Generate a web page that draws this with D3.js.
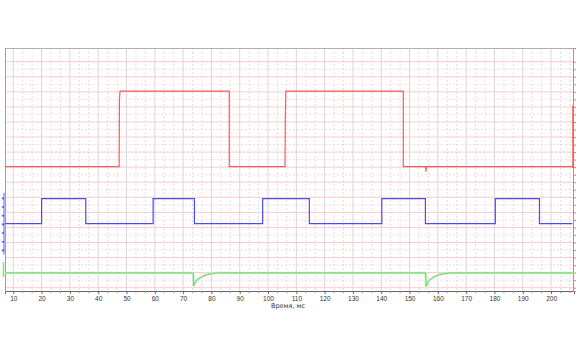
<!DOCTYPE html>
<html>
<head>
<meta charset="utf-8">
<script src="https://cdn.jsdelivr.net/npm/d3@7"></script>
<style>
  body { margin: 0; background: #fff; }
  svg { display: block; font-family: "DejaVu Sans", sans-serif; }
</style>
</head>
<body>
<div id="chart"></div>
<script>
// tick labels on the time axis (ms)
var xTicks = [10, 20, 30, 40, 50, 60, 70, 80, 90, 100, 110, 120, 130, 140, 150, 160, 170, 180, 190, 200];

// red trace
var redX = [7.1, 47.4, 47.5, 47.7, 86.3, 86.3, 106.0, 106.1, 106.3, 147.8, 147.8, 155.7, 155.8, 156.0, 208.0];
var redY = [8.03, 8.03, 12.4, 13.05, 13.05, 8.03, 8.03, 11.2, 13.05, 13.05, 8.03, 8.03, 7.7, 8.03, 8.03];

// blue trace
var blueX = [7.1, 20.0, 20.0, 35.6, 35.6, 59.4, 59.4, 74.0, 74.0, 98.1, 98.1, 114.6, 114.6, 140.2, 140.2, 155.6, 155.6, 180.3, 180.3, 195.9, 195.9, 207.5];
var blueY = [4.25, 4.25, 5.91, 5.91, 4.25, 4.25, 5.91, 5.91, 4.25, 4.25, 5.91, 5.91, 4.25, 4.25, 5.91, 5.91, 4.25, 4.25, 5.91, 5.91, 4.25, 4.25];

// green trace
var greenX = [7.1, 73.6, 73.7, 74.8, 76.6, 78.3, 80.1, 81.9, 155.7, 155.8, 157.0, 158.8, 160.5, 162.3, 164.1, 208.0];
var greenY = [0.98, 0.98, 0.11, 0.51, 0.73, 0.87, 0.93, 0.98, 0.98, 0.11, 0.51, 0.73, 0.87, 0.93, 0.98, 0.98];

var margin = {top: 48, right: 4, bottom: 59, left: 5},
    width = 578 - margin.left - margin.right,
    height = 350 - margin.top - margin.bottom;

var svg = d3.select("#chart")
  .append("svg")
    .attr("width", 578)
    .attr("height", 350)
  .append("g")
    .attr("transform", "translate(" + margin.left + "," + margin.top + ")");

var x = d3.scaleLinear()
  .domain([7.07, 208.1])
  .range([0, width]);

var y = d3.scaleLinear()
  .domain([-0.22, 15.91])
  .range([height, 0]);

// vertical grid: major every 10, minor every 10/3
var minorX = d3.range(0, 63).map(function(i) { return 10 / 3 * i; })
  .filter(function(v) { return v > 7.1 && v < 208 && Math.abs(v / 10 - Math.round(v / 10)) > 0.01; });

svg.append("g").selectAll("line")
  .data(minorX)
  .enter().append("line")
    .attr("x1", function(d) { return x(d); })
    .attr("x2", function(d) { return x(d); })
    .attr("y1", 0).attr("y2", height)
    .attr("stroke", "#dedeea")
    .attr("stroke-dasharray", "2,2");

svg.append("g").selectAll("line")
  .data(xTicks)
  .enter().append("line")
    .attr("x1", function(d) { return x(d); })
    .attr("x2", function(d) { return x(d); })
    .attr("y1", 0).attr("y2", height)
    .attr("stroke", "#d6d6e2");

// horizontal grid: solid at whole units, dotted at halves
var gridY = d3.range(0, 31).map(function(i) { return i / 2; });

svg.append("g").selectAll("line")
  .data(gridY)
  .enter().append("line")
    .attr("x1", 0).attr("x2", width)
    .attr("y1", function(d) { return y(d); })
    .attr("y2", function(d) { return y(d); })
    .attr("stroke", function(d) { return d % 1 === 0 ? "#ffcaca" : "#ffd6d6"; })
    .attr("stroke-dasharray", function(d) { return d % 1 === 0 ? null : "2,2"; });

// frame
svg.append("line")
  .attr("x1", 0).attr("x2", width).attr("y1", 0.5).attr("y2", 0.5)
  .attr("stroke", "#b0b0b0");
svg.append("line")
  .attr("x1", 0.5).attr("x2", 0.5).attr("y1", 0).attr("y2", height)
  .attr("stroke", "#a0a0a0");

// bottom axis
var xAxis = svg.append("g")
  .attr("transform", "translate(0," + height + ")")
  .call(d3.axisBottom(x).tickValues(xTicks).tickSize(3).tickFormat(d3.format("d")));
xAxis.select(".domain").attr("stroke", "#666");
xAxis.selectAll(".tick line").attr("stroke", "#666");
xAxis.selectAll("text").attr("fill", "#333").style("font-size", "6.5px").attr("dy", "0.6em");

svg.append("g")
  .attr("transform", "translate(0," + height + ")")
  .selectAll("line")
  .data(minorX)
  .enter().append("line")
    .attr("x1", function(d) { return x(d); })
    .attr("x2", function(d) { return x(d); })
    .attr("y1", 0).attr("y2", 2)
    .attr("stroke", "#888");

svg.append("text")
  .attr("x", x(100) + 20)
  .attr("y", height + 17)
  .attr("text-anchor", "middle")
  .attr("fill", "#333")
  .style("font-size", "6.5px")
  .text("Время, мс");

// right red axis
var rAxis = svg.append("g")
  .attr("transform", "translate(" + (width - 1) + ",0)")
  .call(d3.axisRight(y).tickValues(gridY).tickSize(3).tickFormat(""));
rAxis.select(".domain").attr("stroke", "#ff7070");
rAxis.selectAll(".tick line").attr("stroke", "#ff7070");
svg.append("line")
  .attr("x1", width - 1).attr("x2", width - 1)
  .attr("y1", y(12.1)).attr("y2", y(7.95))
  .attr("stroke", "#ff5a5a").attr("stroke-width", 1.6);

// left blue axis
var yBlue = d3.scaleLinear().domain([0, 6]).range([y(2.51), y(5.96)]);
var bAxis = svg.append("g")
  .attr("transform", "translate(-1,0)")
  .call(d3.axisLeft(yBlue).ticks(6).tickSize(2).tickSizeOuter(0).tickFormat(""));
bAxis.select(".domain").attr("stroke", "#9a9aff").attr("stroke-width", 1.6)
  .attr("d", "M0," + y(2.2) + "V" + y(6.3));
bAxis.selectAll(".tick line").attr("stroke", "#4a4aff").attr("stroke-width", 1.6);

// left green marker
svg.append("line")
  .attr("x1", -1.5).attr("x2", -1.5)
  .attr("y1", y(1.7)).attr("y2", y(0.7))
  .attr("stroke", "#7ee67e").attr("stroke-width", 1.6);

// traces
var line = d3.line()
  .x(function(d) { return x(d[0]); })
  .y(function(d) { return y(d[1]); });

svg.append("path")
  .datum(d3.zip(greenX, greenY))
  .attr("d", line)
  .attr("fill", "none")
  .attr("stroke", "#c6f2c6")
  .attr("stroke-width", 2.4);
svg.append("path")
  .datum(d3.zip(greenX, greenY))
  .attr("d", line)
  .attr("fill", "none")
  .attr("stroke", "#5cd45c")
  .attr("stroke-width", 0.9);

svg.append("path")
  .datum(d3.zip(blueX, blueY))
  .attr("d", line)
  .attr("fill", "none")
  .attr("stroke", "#4b4bf5")
  .attr("stroke-width", 1.2);

svg.append("path")
  .datum(d3.zip(redX, redY))
  .attr("d", line)
  .attr("fill", "none")
  .attr("stroke", "#f45c5c")
  .attr("stroke-width", 1.2);
</script>
</body>
</html>
